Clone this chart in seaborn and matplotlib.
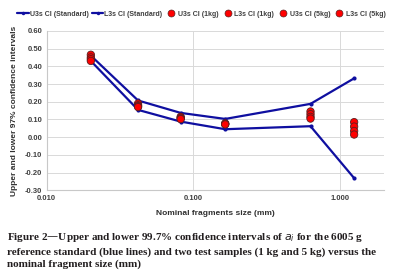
import matplotlib
matplotlib.use("Agg")
import matplotlib.pyplot as plt
import seaborn as sns
import numpy as np
import pandas as pd
from matplotlib.lines import Line2D

# nominal fragment sizes (mm)
sizes = [0.02, 0.042, 0.082, 0.165, 0.63, 1.25]

# 6005 g reference standard
u3s_standard = [0.46, 0.207, 0.137, 0.103, 0.188, 0.332]
l3s_standard = [0.43, 0.154, 0.088, 0.045, 0.062, -0.231]

# test samples
u3s_1kg = [0.465, 0.19, 0.115, 0.078, 0.145, 0.085]
l3s_1kg = [0.45, 0.18, 0.11, 0.075, 0.13, 0.06]
u3s_5kg = [0.44, 0.175, 0.105, 0.074, 0.115, 0.035]
l3s_5kg = [0.43, 0.17, 0.102, 0.072, 0.105, 0.015]

line_names = ["U3s CI (Standard)", "L3s CI (Standard)"]
dot_names = ["U3s CI (1kg)", "L3s CI (1kg)", "U3s CI (5kg)", "L3s CI (5kg)"]

lines_df = pd.DataFrame({
	"size": sizes * 2,
	"value": u3s_standard + l3s_standard,
	"series": [line_names[0]] * 6 + [line_names[1]] * 6,
})
dots_df = pd.DataFrame({
	"size": sizes * 4,
	"value": u3s_1kg + l3s_1kg + u3s_5kg + l3s_5kg,
	"series": [n for n in dot_names for _ in sizes],
})

sns.set_style("whitegrid")
plt.rcParams["font.family"] = ["Liberation Sans", "DejaVu Sans"]

fig = plt.figure(figsize=(4.06, 2.80), dpi=100)
ax = fig.add_axes([0.115, 0.32, 0.831, 0.57])

blue = "#0f0fa0"
sns.lineplot(data=lines_df, x="size", y="value", hue="series", units="series",
	estimator=None, palette=[blue, blue], marker="o", markersize=3,
	markeredgewidth=0, linewidth=1.6, ax=ax, legend=False, sort=False)
sns.scatterplot(data=dots_df, x="size", y="value", hue="series",
	palette=["#ff0000"] * 4, s=28, edgecolor="#5a2020", linewidth=0.6,
	ax=ax, legend=False, zorder=5)

ax.set_xscale("log")
ax.set_xlim(0.01, 2.0)
ax.set_ylim(-0.30, 0.60)
ax.set_xticks([0.01, 0.1, 1.0])
ax.set_xticklabels(["0.010", "0.100", "1.000"])
yt = np.arange(-0.3, 0.61, 0.1)
ax.set_yticks(yt)
ax.set_yticklabels([f"{v:.2f}" for v in yt])
ax.minorticks_off()
ax.tick_params(axis="both", labelsize=5.5, colors="#404040", length=0, pad=3)
for lbl in ax.get_xticklabels() + ax.get_yticklabels():
	lbl.set_fontweight("bold")
ax.grid(True, color="#d9d9d9", linewidth=0.7)
for side in ["top", "right"]:
	ax.spines[side].set_visible(False)
for side in ["left", "bottom"]:
	ax.spines[side].set_color("#c8c8c8")
	ax.spines[side].set_linewidth(0.8)

ax.set_xlabel("Nominal fragments size (mm)", fontsize=6, fontweight="bold",
	color="#303030", labelpad=6)
ax.set_ylabel("Upper and lower 97% confidence intervals", fontsize=6,
	fontweight="bold", color="#303030", labelpad=5)

# legend
handles = [Line2D([], [], color=blue, lw=1.6, marker="o", ms=2.5, mew=0)
	for _ in line_names]
handles += [Line2D([], [], color="none", marker="o", ms=5, mfc="#ff0000",
	mec="#5a2020", mew=0.5) for _ in dot_names]
fig.legend(handles, line_names + dot_names, loc="center", ncol=6,
	bbox_to_anchor=(0.497, 0.95), frameon=False, prop={"size": 5, "weight": "bold"},
	handlelength=1.6, handletextpad=0.2, columnspacing=0.45, labelcolor="#404040")

caption = ("Figure 2\u2014Upper and lower 99.7% confidence intervals of $a_i$ for the 6005 g\n"
	"reference standard (blue lines) and two test samples (1 kg and 5 kg) versus the\n"
	"nominal fragment size (mm)")
fig.text(0.018, 0.107, caption, fontsize=8.0, family="Liberation Serif",
	fontweight="bold", color="#231f20", va="center", ha="left", linespacing=1.35)

fig.savefig("out.png", dpi=100)
